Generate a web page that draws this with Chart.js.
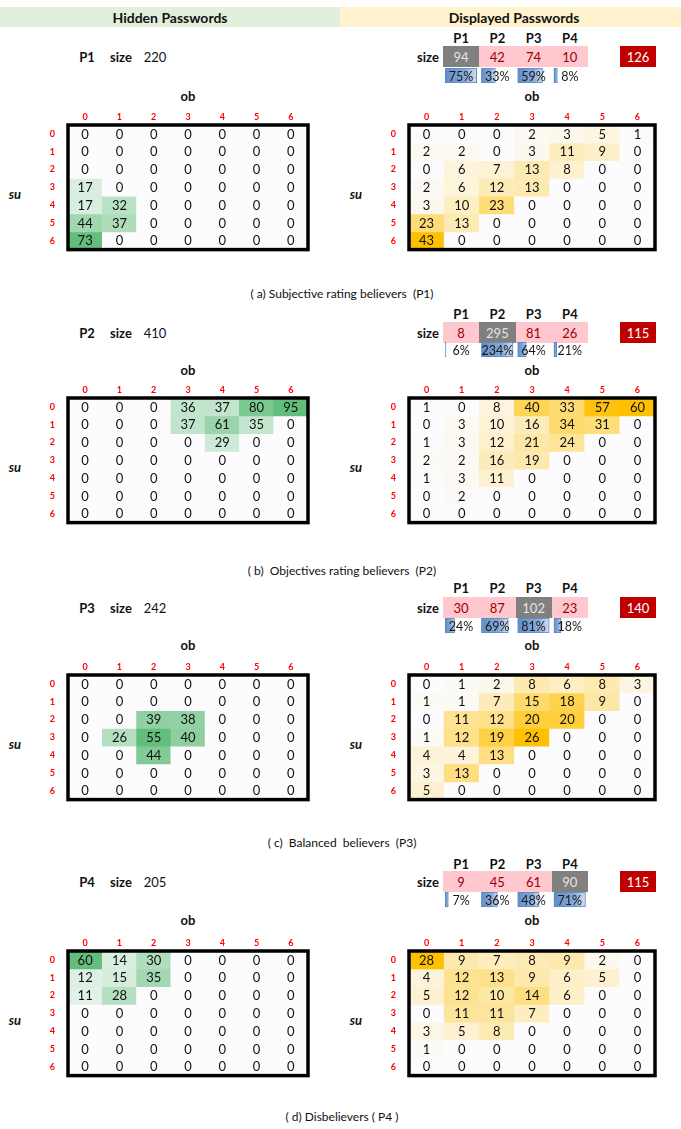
<!DOCTYPE html>
<html>
<head>
<meta charset="utf-8">
<script src="https://cdn.jsdelivr.net/npm/chart.js@4.4.1/dist/chart.umd.min.js"></script>
<style>
  html, body { margin: 0; padding: 0; background: #ffffff; }
  #page { position: relative; width: 681px; height: 1129px; overflow: hidden; font-family: Lato, "Open Sans", sans-serif; color: #111; }
  .t { position: absolute; white-space: pre; transform: translate(-50%, -50%); font-size: 13px; line-height: 1; }
  .box { position: absolute; }
  .cv { position: absolute; }
</style>
</head>
<body>
<div id="page"></div>
<script>
// ---- data ----
const groups = ['P1', 'P2', 'P3', 'P4'];
const ratingLevels = ['0', '1', '2', '3', '4', '5', '6'];
const captions = [
  '( a) Subjective rating believers  (P1)',
  '( b)  Objectives rating believers  (P2)',
  '( c)  Balanced  believers  (P3)',
  '( d) Disbelievers ( P4 )'
];
const hiddenSizes = [220, 410, 242, 205];
const displayedSizesP1 = [94, 42, 74, 10];
const displayedSizesP2 = [8, 295, 81, 26];
const displayedSizesP3 = [30, 87, 102, 23];
const displayedSizesP4 = [9, 45, 61, 90];
const displayedSharesP1 = [75, 33, 59, 8];
const displayedSharesP2 = [6, 234, 64, 21];
const displayedSharesP3 = [24, 69, 81, 18];
const displayedSharesP4 = [7, 36, 48, 71];

// rows = su level 0..6, columns = ob level 0..6
const hiddenP1 = [
  [0, 0, 0, 0, 0, 0, 0],
  [0, 0, 0, 0, 0, 0, 0],
  [0, 0, 0, 0, 0, 0, 0],
  [17, 0, 0, 0, 0, 0, 0],
  [17, 32, 0, 0, 0, 0, 0],
  [44, 37, 0, 0, 0, 0, 0],
  [73, 0, 0, 0, 0, 0, 0]
];
const displayedP1 = [
  [0, 0, 0, 2, 3, 5, 1],
  [2, 2, 0, 3, 11, 9, 0],
  [0, 6, 7, 13, 8, 0, 0],
  [2, 6, 12, 13, 0, 0, 0],
  [3, 10, 23, 0, 0, 0, 0],
  [23, 13, 0, 0, 0, 0, 0],
  [43, 0, 0, 0, 0, 0, 0]
];
const hiddenP2 = [
  [0, 0, 0, 36, 37, 80, 95],
  [0, 0, 0, 37, 61, 35, 0],
  [0, 0, 0, 0, 29, 0, 0],
  [0, 0, 0, 0, 0, 0, 0],
  [0, 0, 0, 0, 0, 0, 0],
  [0, 0, 0, 0, 0, 0, 0],
  [0, 0, 0, 0, 0, 0, 0]
];
const displayedP2 = [
  [1, 0, 8, 40, 33, 57, 60],
  [0, 3, 10, 16, 34, 31, 0],
  [1, 3, 12, 21, 24, 0, 0],
  [2, 2, 16, 19, 0, 0, 0],
  [1, 3, 11, 0, 0, 0, 0],
  [0, 2, 0, 0, 0, 0, 0],
  [0, 0, 0, 0, 0, 0, 0]
];
const hiddenP3 = [
  [0, 0, 0, 0, 0, 0, 0],
  [0, 0, 0, 0, 0, 0, 0],
  [0, 0, 39, 38, 0, 0, 0],
  [0, 26, 55, 40, 0, 0, 0],
  [0, 0, 44, 0, 0, 0, 0],
  [0, 0, 0, 0, 0, 0, 0],
  [0, 0, 0, 0, 0, 0, 0]
];
const displayedP3 = [
  [0, 1, 2, 8, 6, 8, 3],
  [1, 1, 7, 15, 18, 9, 0],
  [0, 11, 12, 20, 20, 0, 0],
  [1, 12, 19, 26, 0, 0, 0],
  [4, 4, 13, 0, 0, 0, 0],
  [3, 13, 0, 0, 0, 0, 0],
  [5, 0, 0, 0, 0, 0, 0]
];
const hiddenP4 = [
  [60, 14, 30, 0, 0, 0, 0],
  [12, 15, 35, 0, 0, 0, 0],
  [11, 28, 0, 0, 0, 0, 0],
  [0, 0, 0, 0, 0, 0, 0],
  [0, 0, 0, 0, 0, 0, 0],
  [0, 0, 0, 0, 0, 0, 0],
  [0, 0, 0, 0, 0, 0, 0]
];
const displayedP4 = [
  [28, 9, 7, 8, 9, 2, 0],
  [4, 12, 13, 9, 6, 5, 0],
  [5, 12, 10, 14, 6, 0, 0],
  [0, 11, 11, 7, 0, 0, 0],
  [3, 5, 8, 0, 0, 0, 0],
  [1, 0, 0, 0, 0, 0, 0],
  [0, 0, 0, 0, 0, 0, 0]
];

const panels = [
  { hidden: hiddenP1, displayed: displayedP1, sizes: displayedSizesP1, shares: displayedSharesP1 },
  { hidden: hiddenP2, displayed: displayedP2, sizes: displayedSizesP2, shares: displayedSharesP2 },
  { hidden: hiddenP3, displayed: displayedP3, sizes: displayedSizesP3, shares: displayedSharesP3 },
  { hidden: hiddenP4, displayed: displayedP4, sizes: displayedSizesP4, shares: displayedSharesP4 }
];

// ---- layout ----
const rowsY = [
  { hdr: 38, sizeTop: 46, pctTop: 68, ob: 96, gridTop: 125, caption: 294 },
  { hdr: 314, sizeTop: 322, pctTop: 342, ob: 370, gridTop: 398, caption: 571 },
  { hdr: 588, sizeTop: 597, pctTop: 618, ob: 645, gridTop: 675, caption: 843 },
  { hdr: 864, sizeTop: 871, pctTop: 892, ob: 920, gridTop: 951, caption: 1117 }
];
const gridH = 138;
const leftGrid = { x0: 68, x1: 308 };
const rightGrid = { x0: 409, x1: 655 };
const cellX0 = 443, cellW = 36.25, cellH = 21, pctH = 15;
const totalBox = { x: 620, w: 36 };

const EMPTY = '#FCFCFF', GREEN = '#63BE7B', AMBER = '#FFC000';
const FONT = 'Lato, "Open Sans", sans-serif';

const page = document.getElementById('page');

function addText(txt, x, y, style) {
  const d = document.createElement('div');
  d.className = 't';
  d.textContent = txt;
  d.style.left = x + 'px';
  d.style.top = y + 'px';
  Object.assign(d.style, style || {});
  page.appendChild(d);
  return d;
}
function addBox(x, y, w, h, bg) {
  const d = document.createElement('div');
  d.className = 'box';
  Object.assign(d.style, { left: x + 'px', top: y + 'px', width: w + 'px', height: h + 'px', background: bg });
  page.appendChild(d);
  return d;
}
function addCanvas(x, y, w, h) {
  const c = document.createElement('canvas');
  c.className = 'cv';
  c.width = w; c.height = h;
  Object.assign(c.style, { left: x + 'px', top: y + 'px', width: w + 'px', height: h + 'px' });
  page.appendChild(c);
  return c;
}
function hexRgb(h) {
  const n = parseInt(h.slice(1), 16);
  return [(n >> 16) & 255, (n >> 8) & 255, n & 255];
}
function mix(a, b, t) {
  const A = hexRgb(a), B = hexRgb(b);
  const c = A.map((v, i) => Math.round(v + (B[i] - v) * t));
  return `rgb(${c[0]},${c[1]},${c[2]})`;
}

// draws each cell's count in the middle of its bar
const cellValues = {
  id: 'cellValues',
  afterDatasetsDraw(chart, args, opts) {
    const ctx = chart.ctx;
    ctx.save();
    ctx.font = `13px ${FONT}`;
    ctx.fillStyle = '#111';
    ctx.textAlign = 'center';
    ctx.textBaseline = 'middle';
    chart.data.datasets.forEach((ds, r) => {
      chart.getDatasetMeta(r).data.forEach((bar, c) => {
        const p = bar.getProps(['x', 'y', 'base'], true);
        ctx.fillText(String(opts.matrix[r][c]), p.x, (p.y + p.base) / 2 + 0.5);
      });
    });
    ctx.restore();
  }
};
// heavy outline around the plotting area
const gridFrame = {
  id: 'gridFrame',
  afterDraw(chart) {
    const a = chart.chartArea, ctx = chart.ctx;
    ctx.save();
    ctx.strokeStyle = '#000';
    ctx.lineWidth = 3.5;
    ctx.strokeRect(a.left, a.top, a.right - a.left, a.bottom - a.top);
    ctx.restore();
  }
};

function heatmap(canvas, matrix, maxColor) {
  const maxVal = Math.max(...matrix.flat());
  return new Chart(canvas, {
    type: 'bar',
    data: {
      labels: ratingLevels,
      datasets: matrix.map((row, r) => ({
        label: 'su ' + ratingLevels[r],
        data: row.map(() => [r, r + 1]),
        backgroundColor: row.map(v => mix(EMPTY, maxColor, v / maxVal)),
        borderWidth: 0,
        grouped: false,
        barPercentage: 1,
        categoryPercentage: 1
      }))
    },
    options: {
      responsive: false,
      animation: false,
      events: [],
      layout: { padding: { top: 0, left: 0, right: 6, bottom: 5 } },
      plugins: { legend: { display: false }, tooltip: { enabled: false }, cellValues: { matrix } },
      scales: {
        x: {
          position: 'top',
          grid: { display: false, drawTicks: false },
          border: { display: false },
          ticks: { color: '#FF0000', font: { family: FONT, size: 9, weight: 'bold' }, padding: 3, maxRotation: 0 },
          afterFit(s) { s.height = 22; }
        },
        y: {
          type: 'linear',
          reverse: true,
          min: 0,
          max: ratingLevels.length,
          grid: { display: false, drawTicks: false },
          border: { display: false },
          afterBuildTicks(s) { s.ticks = ratingLevels.map((_, i) => ({ value: i + 0.5 })); },
          ticks: {
            autoSkip: false,
            color: '#FF0000',
            font: { family: FONT, size: 9, weight: 'bold' },
            padding: 13,
            callback: v => ratingLevels[Math.floor(v)]
          },
          afterFit(s) { s.width = 32; }
        }
      }
    },
    plugins: [cellValues, gridFrame]
  });
}

// share labels over the data bars
const shareLabels = {
  id: 'shareLabels',
  afterDatasetsDraw(chart, args, opts) {
    const ctx = chart.ctx, xs = chart.scales.x, a = chart.chartArea;
    ctx.save();
    ctx.font = `12.5px ${FONT}`;
    ctx.fillStyle = '#1a1a1a';
    ctx.textAlign = 'center';
    ctx.textBaseline = 'middle';
    opts.shares.forEach((s, i) => ctx.fillText(s + '%', xs.getPixelForValue(i + 0.5), (a.top + a.bottom) / 2 + 1));
    ctx.restore();
  }
};
const barInset = 0.06, barSpan = 0.87;
function shareBars(canvas, shares) {
  const top = Math.max(...shares);
  return new Chart(canvas, {
    type: 'bar',
    data: {
      labels: ['share'],
      datasets: shares.map((s, i) => ({
        label: groups[i],
        data: [[i + barInset, i + barInset + barSpan * s / top]],
        backgroundColor(ctx) {
          const ch = ctx.chart;
          if (!ch.chartArea) return '#7FA2D4';
          const xs = ch.scales.x;
          const [a, b] = ch.data.datasets[ctx.datasetIndex].data[0];
          const x0 = xs.getPixelForValue(a), x1 = Math.max(xs.getPixelForValue(b), x0 + 1);
          const g = ch.ctx.createLinearGradient(x0, 0, x1, 0);
          g.addColorStop(0, '#638EC6');
          g.addColorStop(0.65, '#86A9D8');
          g.addColorStop(1, '#D5E1F2');
          return g;
        },
        borderColor: '#5A86C2',
        borderWidth: 1,
        borderSkipped: false,
        grouped: false,
        barPercentage: 1,
        categoryPercentage: 1
      }))
    },
    options: {
      indexAxis: 'y',
      responsive: false,
      animation: false,
      events: [],
      layout: { padding: 0 },
      plugins: { legend: { display: false }, tooltip: { enabled: false }, shareLabels: { shares } },
      scales: {
        x: { type: 'linear', min: 0, max: groups.length, display: false },
        y: { display: false }
      }
    },
    plugins: [shareLabels]
  });
}

// ---- header bands ----
addBox(0, 7, 340, 20, '#E2EFDA');
addBox(340, 7, 341, 20, '#FFF2CC');
addText('Hidden Passwords', 170, 17.5, { fontWeight: 'bold', fontSize: '14px' });
addText('Displayed Passwords', 514, 17.5, { fontWeight: 'bold', fontSize: '14px' });

// ---- panels ----
panels.forEach((p, k) => {
  const L = rowsY[k];
  const sizeMid = L.sizeTop + cellH / 2;

  // hidden side summary
  addText(groups[k], 87, sizeMid, { fontWeight: 'bold' });
  addText('size', 121, sizeMid, { fontWeight: 'bold' });
  addText(String(hiddenSizes[k]), 155, sizeMid);

  // displayed side summary
  groups.forEach((g, i) => addText(g, cellX0 + cellW * (i + 0.5), L.hdr, { fontWeight: 'bold' }));
  addText('size', 428, sizeMid, { fontWeight: 'bold' });
  p.sizes.forEach((v, i) => {
    const own = i === k;
    addBox(cellX0 + cellW * i, L.sizeTop, cellW + (i < 3 ? 0.5 : 0), cellH, own ? '#808080' : '#FFC7CE');
    addText(String(v), cellX0 + cellW * (i + 0.5), sizeMid + 0.5, { color: own ? '#E4E4E4' : '#9C0006' });
  });
  const others = p.sizes.reduce((s, v, i) => (i === k ? s : s + v), 0);
  addBox(totalBox.x, L.sizeTop, totalBox.w, cellH, '#C00000');
  addText(String(others), totalBox.x + totalBox.w / 2, sizeMid + 0.5, { color: '#ffffff' });

  shareBars(addCanvas(cellX0, L.pctTop, cellW * 4, pctH), p.shares);

  // axis names
  addText('ob', (leftGrid.x0 + leftGrid.x1) / 2, L.ob, { fontWeight: 'bold' });
  addText('ob', (rightGrid.x0 + rightGrid.x1) / 2, L.ob, { fontWeight: 'bold' });
  const suY = L.gridTop + gridH * 3.5 / 7;
  addText('su', 15, suY, { fontWeight: 'bold', fontStyle: 'italic' });
  addText('su', 356, suY, { fontWeight: 'bold', fontStyle: 'italic' });

  // heatmaps
  const lx = leftGrid.x0 - 32, rx = rightGrid.x0 - 32, cy = L.gridTop - 22;
  heatmap(addCanvas(lx, cy, leftGrid.x1 - lx + 6, gridH + 22 + 5), p.hidden, GREEN);
  heatmap(addCanvas(rx, cy, rightGrid.x1 - rx + 6, gridH + 22 + 5), p.displayed, AMBER);

  addText(captions[k], 342, L.caption, { fontSize: '12px' });
});
</script>
</body>
</html>
